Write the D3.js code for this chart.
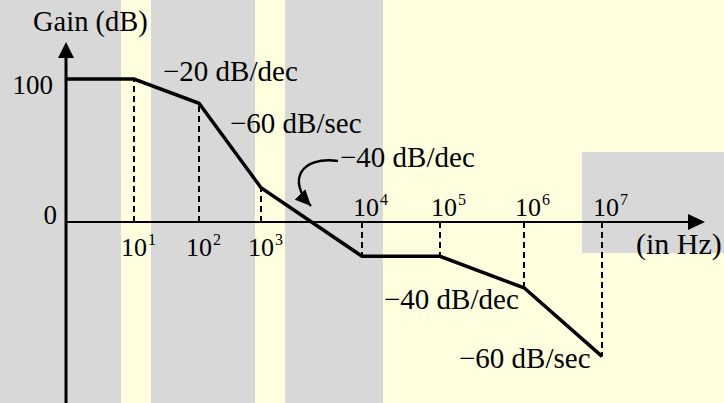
<!DOCTYPE html>
<html>
<head>
<meta charset="utf-8">
<script src="https://cdn.jsdelivr.net/npm/d3@7"></script>
<style>
  html, body { margin: 0; padding: 0; background: #ffffe0; }
  svg { display: block; }
</style>
</head>
<body>
<svg id="chart" width="724" height="403"></svg>
<script>
// Corner frequencies as powers of ten, and gain (dB) read at each corner
const exponents = [0, 1, 2, 3, 4, 5, 6, 7];
const gains = [100, 100, 83, 24, -24, -24, -46, -94];

// Decade ticks shown on the frequency axis
const tickExps = [1, 2, 3, 4, 5, 6, 7];
const tickAbove = [false, false, false, true, true, true, true];

// Gain ticks
const gainTicks = [0, 100];

// Slope annotations
const slopeLabels = ["−20 dB/dec", "−60 dB/sec", "−40 dB/dec", "−40 dB/dec", "−60 dB/sec"];

const FONT = "'Liberation Serif', 'Times New Roman', Times, 'DejaVu Serif', serif";

const svg = d3.select("#chart")
  .attr("font-family", FONT);

// Background stripes
const bands = [
  { x: 0, y: 0, w: 121, h: 403, c: "#d8d8d8" },
  { x: 151, y: 0, w: 104, h: 403, c: "#d8d8d8" },
  { x: 285, y: 0, w: 98, h: 403, c: "#d8d8d8" },
  { x: 582, y: 152, w: 142, h: 101, c: "#d8d8d8" }
];
svg.selectAll(".band")
  .data(bands)
  .enter()
  .append("rect")
    .attr("class", "band")
    .attr("x", d => d.x)
    .attr("y", d => d.y)
    .attr("width", d => d.w)
    .attr("height", d => d.h)
    .attr("fill", d => d.c);

// Scales: the sketch spaces its decades unevenly, so map them piecewise
const xScale = d3.scaleLinear()
  .domain(exponents)
  .range([66, 134, 199, 261, 362, 440, 524, 602]);

const yScale = d3.scaleLinear()
  .domain([0, 100])
  .range([222, 79]);

const x0 = xScale(0);
const y0 = yScale(0);

// Dashed drop lines from each corner to the axis
svg.selectAll(".drop")
  .data(tickExps)
  .enter()
  .append("line")
    .attr("class", "drop")
    .attr("x1", d => xScale(d))
    .attr("x2", d => xScale(d))
    .attr("y1", y0)
    .attr("y2", d => yScale(gains[exponents.indexOf(d)]))
    .attr("stroke", "#000")
    .attr("stroke-width", 2)
    .attr("stroke-dasharray", "6,4");

// Axes
svg.append("line")
  .attr("x1", x0).attr("x2", 690)
  .attr("y1", y0).attr("y2", y0)
  .attr("stroke", "#000").attr("stroke-width", 2);
svg.append("path")
  .attr("d", `M${705},${y0} L${688},${y0 - 8} L${688},${y0 + 8} Z`)
  .attr("fill", "#000");

svg.append("line")
  .attr("x1", x0).attr("x2", x0)
  .attr("y1", 410).attr("y2", 55)
  .attr("stroke", "#000").attr("stroke-width", 3);
svg.append("path")
  .attr("d", `M${x0},42 L${x0 - 8},58 L${x0 + 8},58 Z`)
  .attr("fill", "#000");

// Bode asymptote
const line = d3.line()
  .x((d, i) => xScale(exponents[i]))
  .y(d => yScale(d));

svg.append("path")
  .datum(gains)
  .attr("d", line)
  .attr("fill", "none")
  .attr("stroke", "#000")
  .attr("stroke-width", 3.5)
  .attr("stroke-linejoin", "miter");

// Gain tick labels
svg.selectAll(".gtick")
  .data(gainTicks)
  .enter()
  .append("text")
    .attr("class", "gtick")
    .attr("x", d => d === 0 ? 57 : 53)
    .attr("y", d => yScale(d) + (d === 0 ? 2 : 15))
    .attr("text-anchor", "end")
    .attr("font-size", 27)
    .text(d => d);

// Frequency tick labels 10^n
const ft = svg.selectAll(".ftick")
  .data(tickExps)
  .enter()
  .append("text")
    .attr("class", "ftick")
    .attr("x", (d, i) => xScale(d) - (tickAbove[i] ? 9 : 13))
    .attr("y", (d, i) => tickAbove[i] ? y0 - 6 : y0 + 34)
    .attr("font-size", 26);
ft.append("tspan").text("10");
ft.append("tspan")
  .attr("font-size", 16)
  .attr("dy", -11)
  .attr("dx", 1)
  .text(d => d);

// Axis titles
svg.append("text")
  .attr("x", 33).attr("y", 31)
  .attr("font-size", 28.5)
  .text("Gain (dB)");

svg.append("text")
  .attr("x", 636).attr("y", 254)
  .attr("font-size", 30)
  .text("(in Hz)");

// Slope annotations
const labelPos = [
  { x: 163, y: 81 },
  { x: 230, y: 133 },
  { x: 340, y: 167 },
  { x: 384, y: 309 },
  { x: 459, y: 368 }
];
svg.selectAll(".slope")
  .data(slopeLabels)
  .enter()
  .append("text")
    .attr("class", "slope")
    .attr("x", (d, i) => labelPos[i].x)
    .attr("y", (d, i) => labelPos[i].y)
    .attr("font-size", 29)
    .text(d => d);

// Curved pointer to the -40 dB/dec segment
svg.append("defs")
  .append("marker")
    .attr("id", "head")
    .attr("viewBox", "-16 -8 16 16")
    .attr("refX", 0)
    .attr("refY", 0)
    .attr("markerUnits", "userSpaceOnUse")
    .attr("markerWidth", 16)
    .attr("markerHeight", 16)
    .attr("orient", "auto")
  .append("path")
    .attr("d", "M0,0 L-16,-7.5 L-16,7.5 Z")
    .attr("fill", "#000");

const p = d3.path();
p.moveTo(338, 161);
p.bezierCurveTo(300, 156, 287, 181, 311, 206);
svg.append("path")
  .attr("d", p.toString())
  .attr("fill", "none")
  .attr("stroke", "#000")
  .attr("stroke-width", 2.5)
  .attr("marker-end", "url(#head)");
</script>
</body>
</html>
